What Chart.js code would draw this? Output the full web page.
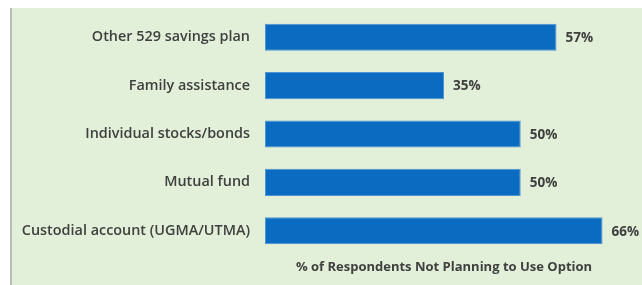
<!DOCTYPE html>
<html>
<head>
<meta charset="utf-8">
<script src="https://cdn.jsdelivr.net/npm/chart.js@4/dist/chart.umd.min.js"></script>
<style>
  html, body { margin: 0; padding: 0; background: #fff; }
  #wrap {
    position: absolute; left: 10px; top: 8px;
    width: 630px; height: 277px;
    border-left: 2px solid #b9bdb6;
    background: #e2efd9;
  }
</style>
</head>
<body>
<div id="wrap"><canvas id="myChart" width="630" height="277"></canvas></div>
<script>
const labels = [
  "Other 529 savings plan",
  "Family assistance",
  "Individual stocks/bonds",
  "Mutual fund",
  "Custodial account (UGMA/UTMA)"
];
const values = [57, 35, 50, 50, 66];
const axisTitle = "% of Respondents Not Planning to Use Option";

const textColor = "#404040";
const fontFamily = "'Open Sans', sans-serif";

// writes the % value just past the end of each bar
const valueLabels = {
  id: "valueLabels",
  afterDatasetsDraw(chart) {
    const ctx = chart.ctx;
    const meta = chart.getDatasetMeta(0);
    ctx.save();
    ctx.font = "bold 13.5px " + fontFamily;
    ctx.fillStyle = textColor;
    ctx.textAlign = "left";
    ctx.textBaseline = "middle";
    meta.data.forEach((bar, i) => {
      ctx.fillText(values[i] + "%", bar.x + 9, bar.y + 1);
    });
    ctx.restore();
  }
};

const data = {
  labels: labels,
  datasets: [
    {
      data: values,
      backgroundColor: "#0a6bc1",
      borderColor: "#4d94d3",
      borderWidth: 1,
      borderSkipped: false,
      barPercentage: 1,
      categoryPercentage: 0.56,
    },
  ],
};

const config = {
  type: "bar",
  data: data,
  plugins: [valueLabels],
  options: {
    indexAxis: "y",
    responsive: false,
    animation: false,
    layout: {
      padding: { top: 5, right: 19, left: 0, bottom: 0 }
    },
    plugins: {
      legend: { display: false },
      tooltip: { enabled: false }
    },
    scales: {
      x: {
        min: 0,
        max: 70,
        grid: { display: false },
        border: { display: false },
        ticks: { display: false },
        title: {
          display: true,
          text: axisTitle,
          color: textColor,
          font: { family: fontFamily, size: 13, weight: "bold" },
          padding: { top: 6, bottom: 10 }
        },
        afterFit(scale) {
          scale.height = 30;
        }
      },
      y: {
        grid: { display: false, drawTicks: false },
        border: { display: false },
        ticks: {
          color: textColor,
          padding: 15,
          font: { family: fontFamily, size: 14.4, weight: "600" }
        },
        afterFit(scale) {
          scale.width = 253;
          scale.paddingTop = 0;
          scale.paddingBottom = 0;
        }
      }
    },
  },
};

const myChart = new Chart(document.getElementById("myChart"), config);
</script>
</body>
</html>
